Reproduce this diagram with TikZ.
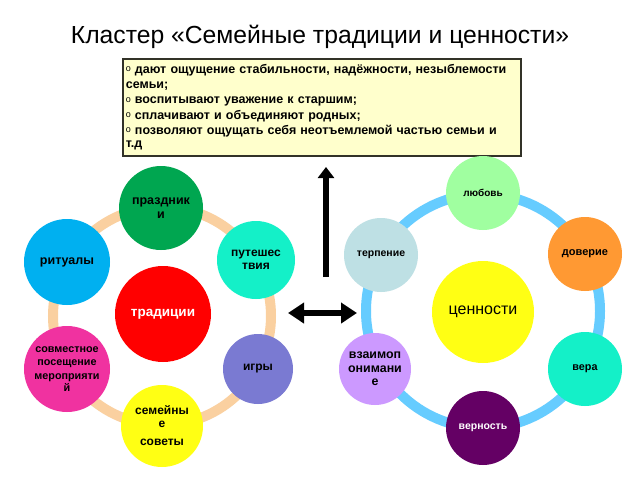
\documentclass[tikz,border=0pt]{standalone}
\usepackage{fontspec}
\setmainfont{Liberation Sans}
\usetikzlibrary{arrows.meta}
\definecolor{peach}{RGB}{250,208,160}
\definecolor{skyring}{RGB}{102,204,255}
\definecolor{cGreen}{RGB}{0,166,80}
\definecolor{cBlue}{RGB}{0,176,240}
\definecolor{cAqua}{RGB}{20,240,200}
\definecolor{cRed}{RGB}{255,0,0}
\definecolor{cViolet}{RGB}{122,122,210}
\definecolor{cPink}{RGB}{240,50,160}
\definecolor{cYellow}{RGB}{255,255,20}
\definecolor{cLightGreen}{RGB}{160,255,160}
\definecolor{cGrayBlue}{RGB}{190,224,228}
\definecolor{cOrange}{RGB}{255,153,51}
\definecolor{cPlum}{RGB}{100,0,100}
\definecolor{cLavender}{RGB}{204,153,255}
\definecolor{boxfill}{RGB}{255,255,204}
\definecolor{boxline}{RGB}{50,50,40}
\newcommand{\bul}{{\mdseries\raisebox{1.5pt}{\fontsize{9}{9}\selectfont o}}}
\begin{document}
\begin{tikzpicture}[x=1pt,y=-1pt,
  bubble/.style={circle,inner sep=0pt,align=center,text=black,
    font=\fontsize{12.5}{13.5}\selectfont\bfseries},
  smallbubble/.style={bubble,font=\fontsize{10.5}{12}\selectfont\bfseries},
  ringL/.style={draw=peach,line width=10pt},
  ringR/.style={draw=skyring,line width=10pt},
  bigarrow/.style={line width=6pt,black}]
\fill[white] (0,0) rectangle (640,480);
\useasboundingbox (0,0) rectangle (640,480);
% title
\node[font=\fontsize{24.7}{28}\selectfont] (title) at (320,37) {Кластер «Семейные традиции и ценности»};
% box
\node[draw=boxline,line width=1.6pt,fill=boxfill,minimum width=398pt,minimum height=94pt,
  text width=392pt,inner xsep=3pt,inner ysep=5.5pt,align=left,anchor=north west,
  font=\fontsize{12.5}{15.2}\selectfont\bfseries] (box) at (122,58)
  {\bul{} дают ощущение стабильности, надёжности, незыблемости\\
   семьи;\\
   \bul{} воспитывают уважение к старшим;\\
   \bul{} сплачивают и объединяют родных;\\
   \bul{} позволяют ощущать себя неотъемлемой частью семьи и\\[-1.5pt]
   т.д};
% rings
\draw[ringL] (162,316) circle[radius=109];
\draw[ringR] (483,311) circle[radius=117];
% left cluster
\node[bubble,fill=cRed,minimum size=96pt,text=white,font=\fontsize{13.5}{15}\selectfont\bfseries] (trad) at (163,314) {традиции};
\node[bubble,fill=cGreen,minimum size=84pt] (prazd) at (161,208) {праздник\\и};
\node[bubble,fill=cBlue,minimum size=86pt] (rit) at (67,262) {ритуалы};
\node[bubble,fill=cAqua,minimum size=78pt,font=\fontsize{12}{12.5}\selectfont\bfseries] (put) at (256,260) {путешес\\твия};
\node[bubble,fill=cViolet,minimum size=70pt,font=\fontsize{12}{13}\selectfont\bfseries] (igry) at (258,369) {игры};
\node[bubble,fill=cPink,minimum size=86pt,font=\fontsize{10.8}{12}\selectfont\bfseries] (sovm) at (67,369) {совместное\\[1.5pt]посещение\\[1.5pt]мероприяти\\й};
\node[bubble,fill=cYellow,minimum size=82pt,font=\fontsize{12}{13}\selectfont\bfseries] (sem) at (162,426) {семейны\\е\\[5pt]советы};
% right cluster
\node[bubble,fill=cYellow,minimum size=102pt,font=\fontsize{16}{18}\selectfont] (cen) at (483,312) {ценности};
\node[smallbubble,fill=cLightGreen,minimum size=74pt,font=\fontsize{10}{12}\selectfont\bfseries] (lub) at (483,193) {любовь};
\node[smallbubble,fill=cGrayBlue,minimum size=74pt] (terp) at (381,255) {терпение};
\node[smallbubble,fill=cOrange,minimum size=74pt,font=\fontsize{11}{12}\selectfont\bfseries] (dov) at (585,254) {доверие};
\node[smallbubble,fill=cAqua,minimum size=74pt,font=\fontsize{10.8}{12}\selectfont\bfseries] (vera) at (585,369) {вера};
\node[smallbubble,fill=cPlum,minimum size=74pt,text=white] (vern) at (483,428) {верность};
\node[bubble,fill=cLavender,minimum size=72pt,font=\fontsize{12.4}{13.5}\selectfont\bfseries] (vzaim) at (375,369) {взаимоп\\онимани\\е};
% arrows
\coordinate (vbot) at (326,277);
\coordinate (vtop) at (326,167);
\coordinate (hl) at (288,313);
\coordinate (hr) at (357,313);
\draw[bigarrow,-{Triangle[width=16pt,length=11pt]}] (vbot) -- (vtop);
\draw[bigarrow,{Triangle[width=20pt,length=16pt]}-{Triangle[width=20pt,length=16pt]}] (hl) -- (hr);
\end{tikzpicture}
\end{document}
